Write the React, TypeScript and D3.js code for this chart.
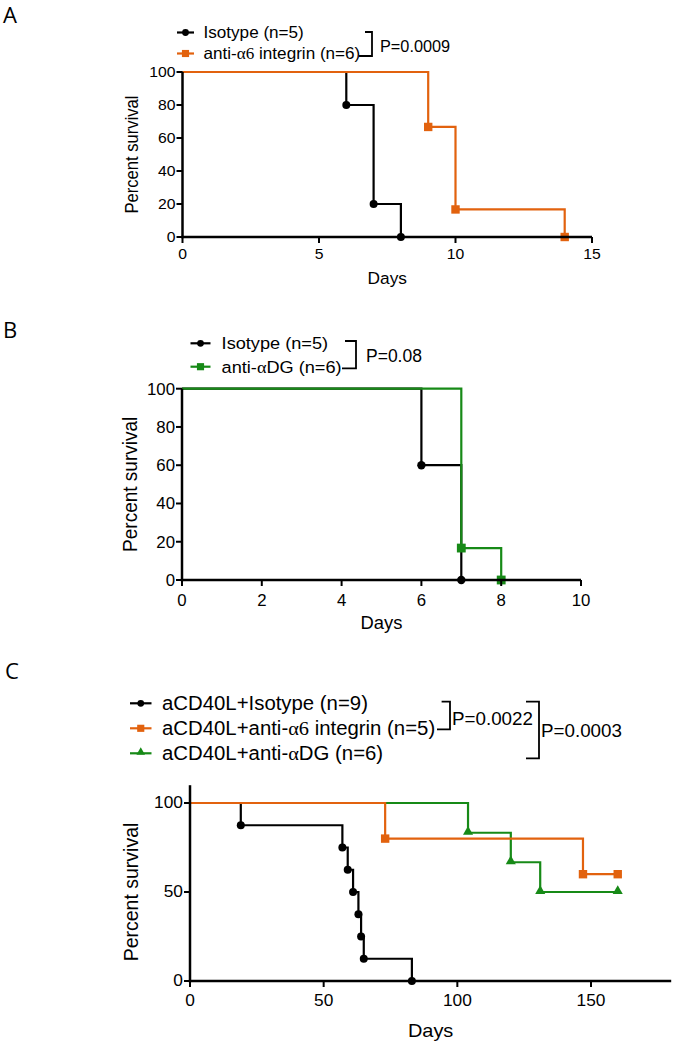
import React from "react";
import * as d3 from "d3";

const FONT = "'Liberation Sans', Arial, Helvetica, sans-serif";
const SERIF = "'Liberation Serif', 'DejaVu Serif', serif";
const BLACK = "#000000";
const ORANGE = "#E2620E";
const GREEN = "#178A17";

// ---------- Panel A ----------
const aDayTicks = [0, 5, 10, 15];
const aSurvTicks = [0, 20, 40, 60, 80, 100];
const aIsoDays = [0, 6, 7, 8];
const aIsoSurv = [100, 80, 20, 0];
const aA6Days = [0, 9, 10, 14];
const aA6Surv = [100, 66.7, 16.7, 0];
const aLegend = ["Isotype (n=5)", "anti-α6 integrin (n=6)"];
const aPValues = ["P=0.0009"];

// ---------- Panel B ----------
const bDayTicks = [0, 2, 4, 6, 8, 10];
const bSurvTicks = [0, 20, 40, 60, 80, 100];
const bIsoDays = [0, 6, 7];
const bIsoSurv = [100, 60, 0];
const bDgDays = [0, 7, 8];
const bDgSurv = [100, 16.7, 0];
const bLegend = ["Isotype (n=5)", "anti-αDG (n=6)"];
const bPValues = ["P=0.08"];

// ---------- Panel C ----------
const cDayTicks = [0, 50, 100, 150];
const cSurvTicks = [0, 50, 100];
const cIsoDays = [0, 19, 57, 59, 61, 63, 64, 65, 83];
const cIsoSurv = [100, 87.5, 75, 62.5, 50, 37.5, 25, 12.5, 0];
const cA6Days = [0, 73, 147, 160];
const cA6Surv = [100, 80, 60, 60];
const cDgDays = [0, 104, 120, 131, 160];
const cDgSurv = [100, 83.3, 66.7, 50, 50];
const cLegend = ["aCD40L+Isotype (n=9)", "aCD40L+anti-α6 integrin (n=5)", "aCD40L+anti-αDG (n=6)"];
const cPValues = ["P=0.0022", "P=0.0003"];

const SX = 1.05;

type Shape = "circle" | "square" | "triangle";

function renderLabel(s: string) {
  const m = s.match(/^(.*?)(α6|α)(.*)$/);
  if (!m) return s;
  return (
    <>
      {m[1]}
      <tspan fontFamily={SERIF}>{m[2]}</tspan>
      {m[3]}
    </>
  );
}

function T(props: {
  x: number;
  y: number;
  size: number;
  anchor?: string;
  family?: string;
  sx?: number;
  children: any;
}) {
  const { x, y, size, anchor = "start", family = FONT, sx = SX, children } = props;
  return (
    <text
      transform={`translate(${x},${y}) scale(${sx},1)`}
      fontSize={size}
      textAnchor={anchor}
      dominantBaseline="central"
      fontFamily={family}
      fill="#000"
    >
      {children}
    </text>
  );
}

function Marker({ shape, cx, cy, color, s = 1 }: { shape: Shape; cx: number; cy: number; color: string; s?: number }) {
  if (shape === "circle") return <circle cx={cx} cy={cy} r={4 * s} fill={color} />;
  if (shape === "square") {
    const h = 4.2 * s;
    return <rect x={cx - h} y={cy - h} width={2 * h} height={2 * h} fill={color} />;
  }
  const p = d3.symbol().type(d3.symbolTriangle).size(44 * s * s)();
  return <path d={p || ""} transform={`translate(${cx},${cy - 1})`} fill={color} />;
}

interface Series {
  days: number[];
  surv: number[];
  color: string;
  shape: Shape;
}

interface PanelProps {
  letter: string;
  letterX: number;
  letterY: number;
  xRange: [number, number];
  xDomain: [number, number];
  yRange: [number, number];
  yDomain: [number, number];
  yAxisMax: number;
  xTicks: number[];
  yTicks: number[];
  tickSize: number;
  titleSize: number;
  yTitleSize: number;
  xTickLabelY: number;
  daysY: number;
  yTitleX: number;
  series: Series[];
  drawOrder: number[];
  legend: string[];
  legendRows: number[];
  legendLine: [number, number];
  legendTextX: number;
  legendSize: number;
  pSize: number;
  markerScale: number;
  brackets: { x: number; y1: number; y2: number; top: number; bottom: number }[];
  pvals: string[];
  pPos: [number, number][];
}

function Panel(p: PanelProps) {
  const x = d3.scaleLinear().domain(p.xDomain).range(p.xRange);
  const y = d3.scaleLinear().domain(p.yDomain).range(p.yRange);
  const line = d3
    .line<[number, number]>()
    .x((d) => x(d[0]))
    .y((d) => y(d[1]))
    .curve(d3.curveStepAfter);
  const x0 = p.xRange[0];
  const y0 = y(0);
  return (
    <g>
      <T x={p.letterX} y={p.letterY} size={21} family="'Open Sans', 'DejaVu Sans', sans-serif" sx={1.05}>
        {p.letter}
      </T>
      {/* legend */}
      {p.legend.map((lab, i) => {
        const s = p.series[i];
        const ly = p.legendRows[i];
        return (
          <g key={"lg" + i}>
            <line x1={p.legendLine[0]} x2={p.legendLine[1]} y1={ly} y2={ly} stroke={s.color} strokeWidth={2.2} />
            <Marker shape={s.shape} cx={(p.legendLine[0] + p.legendLine[1]) / 2} cy={ly} color={s.color} s={0.85} />
            <T x={p.legendTextX} y={ly} size={p.legendSize}>
              {renderLabel(lab)}
            </T>
          </g>
        );
      })}
      {p.brackets.map((b, i) => (
        <path
          key={"br" + i}
          d={`M${b.top},${b.y1}H${b.x}V${b.y2}H${b.bottom}`}
          fill="none"
          stroke="#000"
          strokeWidth={1.8}
        />
      ))}
      {p.pvals.map((t, i) => (
        <T key={"pv" + i} x={p.pPos[i][0]} y={p.pPos[i][1]} size={p.pSize} sx={1.0}>
          {t}
        </T>
      ))}
      {/* series */}
      {p.drawOrder.map((k) => {
        const s = p.series[k];
        const pts: [number, number][] = s.days.map((d, j) => [d, s.surv[j]]);
        return (
          <g key={"s" + k}>
            <path d={line(pts) || ""} fill="none" stroke={s.color} strokeWidth={2.2} />
            {pts.slice(1).map((d, j) => (
              <Marker key={j} shape={s.shape} cx={x(d[0])} cy={y(d[1])} color={s.color} s={p.markerScale} />
            ))}
          </g>
        );
      })}
      {/* axes */}
      <line x1={x0} x2={x0} y1={y0 + 1.2} y2={y(p.yAxisMax)} stroke="#000" strokeWidth={2.5} />
      <line x1={x0 - 1.2} x2={p.xRange[1]} y1={y0} y2={y0} stroke="#000" strokeWidth={2.5} />
      {p.yTicks.map((t) => (
        <g key={"yt" + t}>
          <line x1={x0 - 6} x2={x0} y1={y(t)} y2={y(t)} stroke="#000" strokeWidth={2} />
          <T x={x0 - 7} y={y(t)} size={p.tickSize} anchor="end">
            {t}
          </T>
        </g>
      ))}
      {p.xTicks.map((t) => (
        <g key={"xt" + t}>
          <line x1={x(t)} x2={x(t)} y1={y0} y2={y0 + 6} stroke="#000" strokeWidth={2} />
          <T x={x(t)} y={p.xTickLabelY} size={p.tickSize} anchor="middle">
            {t}
          </T>
        </g>
      ))}
      <T x={(p.xRange[0] + p.xRange[1]) / 2} y={p.daysY} size={p.titleSize} anchor="middle">
        Days
      </T>
      <text
        transform={`translate(${p.yTitleX},${(y0 + y(p.yDomain[1])) / 2}) rotate(-90) scale(1,${SX})`}
        fontSize={p.yTitleSize}
        textAnchor="middle"
        dominantBaseline="central"
        fontFamily={FONT}
      >
        Percent survival
      </text>
    </g>
  );
}

export default function App() {
  return (
    <svg width={676} height={1046} style={{ position: "absolute", left: 0, top: 0, background: "#fff" }}>
      <rect x={0} y={0} width={676} height={1046} fill="#fff" />
      <Panel
        letter="A"
        letterX={3}
        letterY={15}
        xRange={[182.5, 592]}
        xDomain={[0, 15]}
        yRange={[237, 72]}
        yDomain={[0, 100]}
        yAxisMax={100}
        xTicks={aDayTicks}
        yTicks={aSurvTicks}
        tickSize={15}
        titleSize={16.5}
        yTitleSize={16.6}
        xTickLabelY={254}
        daysY={279}
        yTitleX={132}
        series={[
          { days: aIsoDays, surv: aIsoSurv, color: BLACK, shape: "circle" },
          { days: aA6Days, surv: aA6Surv, color: ORANGE, shape: "square" },
        ]}
        drawOrder={[0, 1]}
        legend={aLegend}
        legendRows={[32.5, 53.5]}
        legendLine={[177, 194]}
        legendTextX={203.5}
        legendSize={16.3}
        pSize={16.3}
        markerScale={1}
        brackets={[{ x: 372, y1: 32, y2: 56, top: 365, bottom: 359 }]}
        pvals={aPValues}
        pPos={[[380, 46]]}
      />
      <Panel
        letter="B"
        letterX={3}
        letterY={330}
        xRange={[182, 581]}
        xDomain={[0, 10]}
        yRange={[580, 388.7]}
        yDomain={[0, 100]}
        yAxisMax={100}
        xTicks={bDayTicks}
        yTicks={bSurvTicks}
        tickSize={16}
        titleSize={17.5}
        yTitleSize={19}
        xTickLabelY={600}
        daysY={622.7}
        yTitleX={130}
        series={[
          { days: bIsoDays, surv: bIsoSurv, color: BLACK, shape: "circle" },
          { days: bDgDays, surv: bDgSurv, color: GREEN, shape: "square" },
        ]}
        drawOrder={[0, 1]}
        legend={bLegend}
        legendRows={[343.3, 366.7]}
        legendLine={[190.5, 210.5]}
        legendTextX={221.6}
        legendSize={17.3}
        pSize={17.5}
        markerScale={1.05}
        brackets={[{ x: 356, y1: 341, y2: 368.3, top: 345, bottom: 342 }]}
        pvals={bPValues}
        pPos={[[366, 355.7]]}
      />
      <Panel
        letter="C"
        letterX={5}
        letterY={671}
        xRange={[190, 671.2]}
        xDomain={[0, 180]}
        yRange={[981, 803]}
        yDomain={[0, 100]}
        yAxisMax={110}
        xTicks={cDayTicks}
        yTicks={cSurvTicks}
        tickSize={16.5}
        titleSize={19}
        yTitleSize={19.5}
        xTickLabelY={1000.7}
        daysY={1030}
        yTitleX={131}
        series={[
          { days: cIsoDays, surv: cIsoSurv, color: BLACK, shape: "circle" },
          { days: cA6Days, surv: cA6Surv, color: ORANGE, shape: "square" },
          { days: cDgDays, surv: cDgSurv, color: GREEN, shape: "triangle" },
        ]}
        drawOrder={[0, 2, 1]}
        legend={cLegend}
        legendRows={[703.3, 728.3, 753.3]}
        legendLine={[130, 151.5]}
        legendTextX={162}
        legendSize={19.4}
        pSize={18.8}
        markerScale={1}
        brackets={[
          { x: 450, y1: 701.7, y2: 729.3, top: 441.6, bottom: 437 },
          { x: 539, y1: 701.7, y2: 758.3, top: 526, bottom: 526 },
        ]}
        pvals={cPValues}
        pPos={[
          [452, 718.3],
          [541, 730.7],
        ]}
      />
    </svg>
  );
}
